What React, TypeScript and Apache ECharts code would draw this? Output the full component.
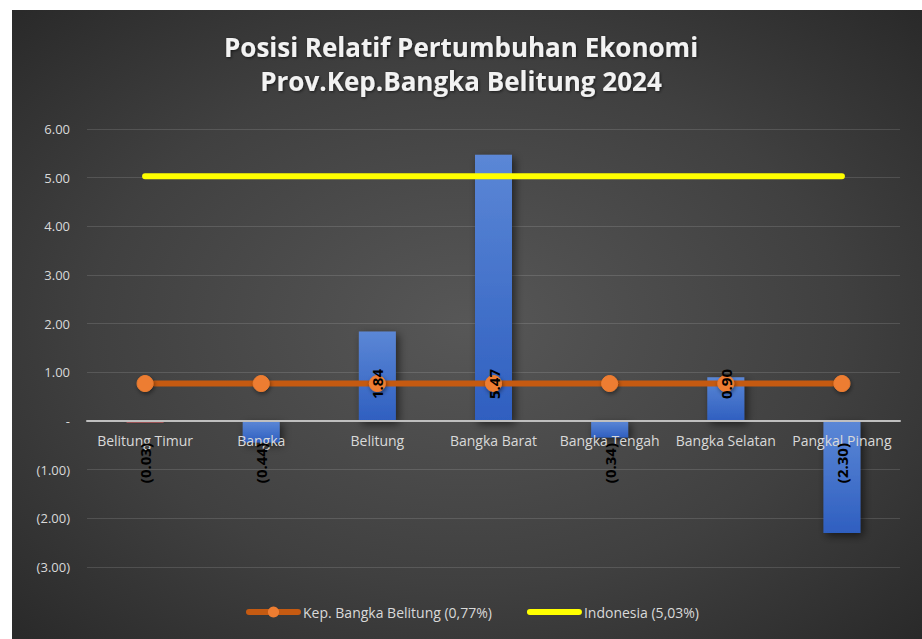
import React, { useEffect, useRef } from "react";
import * as echarts from "echarts";

const categories = [
  "Belitung Timur",
  "Bangka",
  "Belitung",
  "Bangka Barat",
  "Bangka Tengah",
  "Bangka Selatan",
  "Pangkal Pinang",
];
const growthValues = [-0.03, -0.44, 1.84, 5.47, -0.34, 0.9, -2.3];
const provinceValues = [0.77, 0.77, 0.77, 0.77, 0.77, 0.77, 0.77];
const indonesiaValues = [5.03, 5.03, 5.03, 5.03, 5.03, 5.03, 5.03];
const provinceName = "Kep. Bangka Belitung (0,77%)";
const indonesiaName = "Indonesia (5,03%)";
const titleLines = ["Posisi Relatif Pertumbuhan Ekonomi", "Prov.Kep.Bangka Belitung 2024"];
const yMin = -3;
const yMax = 6;
const yStep = 1;

const FONT = "'Open Sans', 'Noto Sans', sans-serif";

const fmt = (v: number) => {
  if (Math.abs(v) < 1e-9) return "-";
  if (v < 0) return "(" + Math.abs(v).toFixed(2) + ")";
  return v.toFixed(2);
};

export default function App() {
  const ref = useRef<HTMLDivElement>(null);
  useEffect(() => {
    if (!ref.current) return;
    const chart = echarts.init(ref.current, undefined, { renderer: "svg" });

    const barGradient = new echarts.graphic.LinearGradient(0, 0, 0, 1, [
      { offset: 0, color: "#5b87d6" },
      { offset: 1, color: "#2f5fc0" },
    ]);

    const barData = growthValues.map((v, i) => ({
      value: v,
      itemStyle: i === 0 ? { color: "#f0646a" } : undefined,
    }));

    const labelData = growthValues.map((v) => ({
      value: v,
      label: {
        position: v >= 0 ? "insideBottom" : "insideTop",
        align: v >= 0 ? "left" : "right",
      },
    }));

    chart.setOption({
      animation: false,
      backgroundColor: "#ffffff",
      graphic: [
        {
          type: "rect",
          z: -10,
          silent: true,
          shape: { x: 12, y: 10, width: 910, height: 629 },
          style: {
            fill: new echarts.graphic.RadialGradient(0.5, 0.5, 0.75, [
              { offset: 0, color: "#575757" },
              { offset: 0.55, color: "#404040" },
              { offset: 1, color: "#262626" },
            ]),
          },
        },
      ],
      title: {
        text: titleLines.join("\n"),
        left: "center",
        top: 25,
        textStyle: {
          fontFamily: FONT,
          fontSize: 26,
          fontWeight: "bold",
          color: "#f2f2f2",
          lineHeight: 34,
          textShadowColor: "rgba(0,0,0,0.6)",
          textShadowBlur: 3,
          textShadowOffsetX: 1,
          textShadowOffsetY: 1,
        },
      },
      legend: {
        data: [
          { name: provinceName },
          { name: indonesiaName, itemStyle: { opacity: 0 } },
        ],
        bottom: 20,
        left: 246,
        padding: 0,
        itemWidth: 49,
        itemHeight: 14,
        itemGap: 35,
        lineStyle: { width: 6, cap: "round" },
        textStyle: { color: "#d9d9d9", fontSize: 14, fontFamily: FONT },
      },
      grid: { left: 87, right: 22, top: 129, bottom: 72, containLabel: false },
      xAxis: {
        type: "category",
        data: categories,
        z: 6,
        axisLine: { show: true, onZero: true, lineStyle: { color: "#bfbfbf", width: 2 } },
        axisTick: { show: false },
        axisLabel: { color: "#d9d9d9", fontSize: 14, fontFamily: FONT, margin: -134, interval: 0 },
        splitLine: { show: false },
      },
      yAxis: {
        type: "value",
        min: yMin,
        max: yMax,
        interval: yStep,
        axisLine: { show: false },
        axisTick: { show: false },
        axisLabel: {
          color: "#d9d9d9",
          fontSize: 13,
          fontFamily: FONT,
          margin: 17,
          formatter: (v: number) => fmt(v),
        },
        splitLine: { lineStyle: { color: "rgba(255,255,255,0.13)", width: 1 } },
      },
      series: [
        {
          name: "Pertumbuhan",
          type: "bar",
          data: barData,
          barWidth: 37,
          z: 2,
          itemStyle: {
            color: barGradient,
            shadowColor: "rgba(0,0,0,0.55)",
            shadowBlur: 8,
            shadowOffsetX: 3,
            shadowOffsetY: 3,
          },
          label: { show: false },
        },
        {
          name: indonesiaName,
          type: "line",
          data: indonesiaValues,
          symbol: "none",
          z: 3,
          lineStyle: { color: "#ffff00", width: 6, cap: "round" },
          itemStyle: { color: "#ffff00" },
        },
        {
          name: provinceName,
          type: "line",
          data: provinceValues,
          symbol: "circle",
          symbolSize: 16,
          z: 4,
          lineStyle: { color: "#c55a11", width: 6, cap: "round" },
          itemStyle: {
            color: "#ed7d31",
            borderColor: "#ed7d31",
            shadowColor: "rgba(0,0,0,0.45)",
            shadowBlur: 4,
            shadowOffsetX: 1,
            shadowOffsetY: 2,
          },
        },
        {
          name: "labels",
          type: "bar",
          data: labelData,
          barWidth: 37,
          barGap: "-100%",
          z: 8,
          silent: true,
          itemStyle: { color: "rgba(0,0,0,0)" },
          label: {
            show: true,
            rotate: 90,
            distance: 22,
            verticalAlign: "middle",
            color: "#000000",
            fontSize: 15,
            fontWeight: "bold",
            fontFamily: FONT,
            formatter: (p: any) => fmt(p.value),
          },
        },
      ],
    });
    return () => chart.dispose();
  }, []);
  return (
    <div
      ref={ref}
      style={{ position: "absolute", left: 0, top: 0, width: 922, height: 639 }}
    />
  );
}
